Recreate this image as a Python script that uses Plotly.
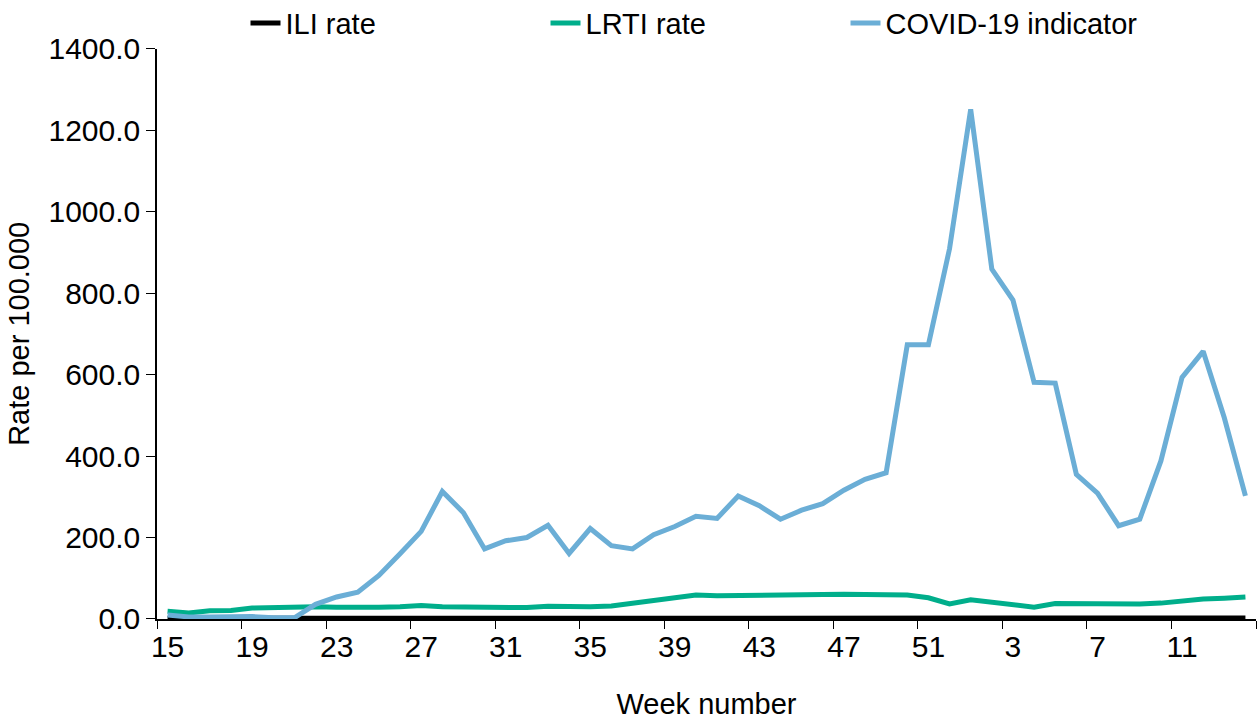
import plotly.graph_objects as go

weeks = [str(w) for w in list(range(15, 53)) + list(range(1, 15))]

ili_rate = [2.0, 1.8, 1.7, 1.9, 2.0, 1.6, 1.5, 1.6, 1.8, 1.7,
            1.6, 1.8, 2.0, 1.9, 1.8, 1.7, 1.8, 1.9, 2.0, 2.1,
            2.2, 2.3, 2.5, 2.7, 3.0, 3.3, 3.6, 3.5, 3.4, 3.3,
            3.2, 3.3, 3.4, 3.5, 3.3, 3.0, 2.6, 2.4,
            2.6, 2.5, 2.3, 2.1, 2.2, 2.3, 2.4, 2.2, 2.1, 2.3, 2.4, 2.5, 2.4, 2.2]

lrti_rate = [19, 15, 20, 21, 27, 29, 29, 30, 29, 28,
             29, 30, 33, 30, 30, 28, 27, 28, 31, 29,
             30, 32, 39, 45, 51, 59, 57, 57, 59, 58,
             60, 60, 61, 61, 62, 59, 52, 37,
             47, 41, 36, 29, 38, 37, 39, 36, 37, 39, 45, 49, 51, 54]

covid_indicator = [10, 5, 5, 6, 6, 3, 3, 36, 54, 66,
                   107, 160, 215, 313, 261, 172, 192, 200, 230, 161,
                   222, 180, 172, 207, 227, 252, 247, 302, 278, 245,
                   267, 283, 316, 343, 359, 673, 673, 909,
                   1251, 859, 783, 581, 579, 355, 309, 229, 245, 388, 593, 657, 494, 302]

series_names = ["ILI rate", "LRTI rate", "COVID-19 indicator"]
series_colors = ["#000000", "#00AE8B", "#6BAED6"]

FONT = "Liberation Sans, Arial, sans-serif"
FS = 29
TICK_FS = 30

fig = go.Figure()
for name, vals, col in zip(series_names, [ili_rate, lrti_rate, covid_indicator], series_colors):
    fig.add_trace(go.Scatter(x=weeks, y=vals, name=name, mode="lines",
                             line=dict(color=col, width=5)))

fig.update_layout(
    width=1259, height=723,
    margin=dict(l=157, r=3, t=46, b=104),
    paper_bgcolor="white", plot_bgcolor="white",
    font=dict(family=FONT, size=FS, color="#000000"),
    legend=dict(orientation="h", xref="container", x=0.195, xanchor="left",
                yref="container", y=0.968, yanchor="middle",
                entrywidth=255, font=dict(size=FS), bgcolor="rgba(0,0,0,0)"),
    xaxis=dict(
        type="category", range=[-0.5, 51.5], automargin=False,
        tickmode="linear", tick0=0, dtick=4, tickangle=0,
        tickson="boundaries", ticks="outside", ticklen=8, tickcolor="#000000",
        showline=True, linecolor="#000000", linewidth=1.5,
        showgrid=False, zeroline=False,
        title=dict(text="Week number", font=dict(size=FS), standoff=32),
        tickfont=dict(size=TICK_FS),
    ),
    yaxis=dict(
        range=[0, 1400], tickmode="linear", tick0=0, dtick=200, automargin=False,
        tickformat=".1f", ticks="outside", ticklen=9, tickcolor="#000000",
        showline=True, linecolor="#000000", linewidth=1.5,
        showgrid=False, zeroline=False,
        title=dict(text="Rate per 100.000", font=dict(size=FS), standoff=10),
        tickfont=dict(size=TICK_FS),
    ),
)

fig.write_html("out.html", config={"displayModeBar": False},
               post_script="document.body.style.margin='0';document.body.style.overflow='hidden';")
